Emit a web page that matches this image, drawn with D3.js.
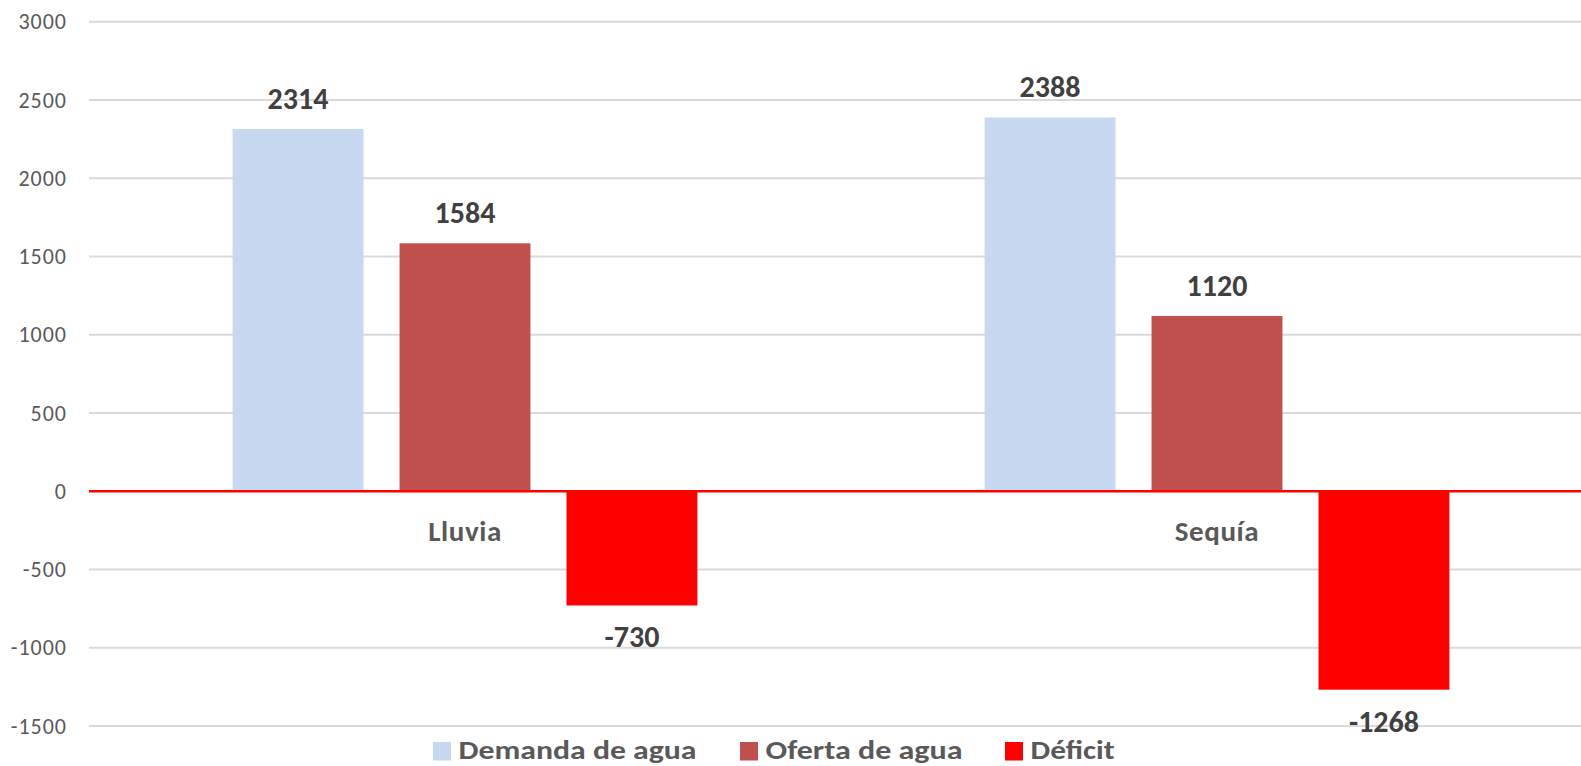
<!DOCTYPE html>
<html>
<head>
<meta charset="utf-8">
<script src="https://cdn.jsdelivr.net/npm/d3@7"></script>
<style>
  body { margin: 0; background: #fff; }
  text { font-family: Carlito, Lato, "Open Sans", sans-serif; }
</style>
</head>
<body>
<div id="chart-area"></div>
<script>
// data
var categories = ["Lluvia", "Sequía"];
var seriesNames = ["Demanda de agua", "Oferta de agua", "Déficit"];
var demanda = [2314, 2388];
var oferta = [1584, 1120];
var deficit = [-730, -1268];
var yTicks = [3000, 2500, 2000, 1500, 1000, 500, 0, -500, -1000, -1500];

var colors = ["#C6D9F1", "#C0504D", "#FF0000"];

var svgWidth = 1581;
var svgHeight = 766;

var svg = d3.select("#chart-area")
            .append("svg")
            .attr("width", svgWidth)
            .attr("height", svgHeight);

var x = d3.scaleBand()
          .domain(categories)
          .range([89, 1593]);

var xs = d3.scaleBand()
           .domain(seriesNames)
           .range([0, x.bandwidth()])
           .paddingInner(0.216)
           .paddingOuter(0.86);

var y = d3.scaleLinear()
          .domain([-1500, 3000])
          .range([726, 21.7]);

// gridlines
svg.append("g")
   .selectAll("line")
   .data(yTicks.filter(function(d) { return d !== 0; }))
   .enter()
   .append("line")
   .attr("x1", 89)
   .attr("x2", svgWidth)
   .attr("y1", function(d) { return y(d); })
   .attr("y2", function(d) { return y(d); })
   .attr("stroke", "#D9D9D9")
   .attr("stroke-width", 2);

// y axis labels (plain hyphen for negatives, no thousands separator)
var yAxisGroup = svg.append("g")
                    .attr("transform", "translate(67,0)");
yAxisGroup.call(d3.axisLeft(y)
                  .tickValues(yTicks)
                  .tickSize(0)
                  .tickPadding(0)
                  .tickFormat(function(d) { return String(d); }));
yAxisGroup.select(".domain").remove();
yAxisGroup.selectAll("text")
          .attr("font-family", "Carlito, Lato, 'Open Sans', sans-serif")
          .attr("font-size", "22px")
          .attr("letter-spacing", "1px")
          .attr("fill", "#595959");

// bars
var rows = [];
categories.forEach(function(c, i) {
    rows.push({ cat: c, s: seriesNames[0], v: demanda[i], color: colors[0] });
    rows.push({ cat: c, s: seriesNames[1], v: oferta[i], color: colors[1] });
    rows.push({ cat: c, s: seriesNames[2], v: deficit[i], color: colors[2] });
});

svg.append("g")
   .selectAll("rect")
   .data(rows)
   .enter()
   .append("rect")
   .attr("x", function(d) { return x(d.cat) + xs(d.s); })
   .attr("width", xs.bandwidth())
   .attr("y", function(d) { return y(Math.max(0, d.v)); })
   .attr("height", function(d) { return Math.abs(y(d.v) - y(0)); })
   .attr("fill", function(d) { return d.color; });

// zero line
svg.append("line")
   .attr("x1", 89)
   .attr("x2", svgWidth)
   .attr("y1", y(0))
   .attr("y2", y(0))
   .attr("stroke", "#FF0000")
   .attr("stroke-width", 2.5);

// value labels
svg.append("g")
   .selectAll("text")
   .data(rows)
   .enter()
   .append("text")
   .attr("x", function(d) { return x(d.cat) + xs(d.s) + xs.bandwidth() / 2; })
   .attr("y", function(d) { return d.v >= 0 ? y(d.v) - 20 : y(d.v) + 42; })
   .attr("text-anchor", "middle")
   .attr("font-size", "30px")
   .attr("font-weight", "bold")
   .attr("fill", "#404040")
   .text(function(d) { return d.v; });

// category labels
svg.append("g")
   .selectAll("text")
   .data(categories)
   .enter()
   .append("text")
   .attr("x", function(d) { return x(d) + x.bandwidth() / 2; })
   .attr("y", y(0) + 50)
   .attr("text-anchor", "middle")
   .attr("font-size", "29px")
   .attr("font-weight", "bold")
   .attr("letter-spacing", "0.6px")
   .attr("fill", "#595959")
   .text(function(d) { return d; });

// legend
var legendX = [433, 740, 1005];
var legendW = [238, 197, 84];
var legend = svg.append("g")
                .selectAll("g")
                .data(seriesNames)
                .enter()
                .append("g")
                .attr("transform", function(d, i) { return "translate(" + legendX[i] + ",742)"; });

legend.append("rect")
      .attr("width", 18)
      .attr("height", 18.5)
      .attr("fill", function(d, i) { return colors[i]; });

legend.append("text")
      .attr("x", 25.5)
      .attr("y", 17)
      .attr("font-size", "26.5px")
      .attr("font-weight", "bold")
      .attr("fill", "#595959")
      .attr("textLength", function(d, i) { return legendW[i]; })
      .attr("lengthAdjust", "spacingAndGlyphs")
      .text(function(d) { return d; });
</script>
</body>
</html>
